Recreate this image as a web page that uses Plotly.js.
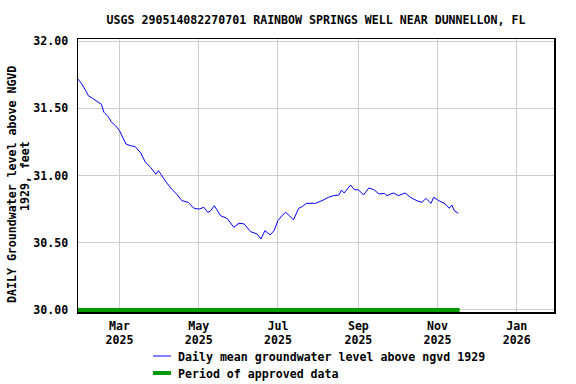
<!DOCTYPE html>
<html>
<head>
<meta charset="utf-8">
<script src="https://cdn.plot.ly/plotly-3.0.1.min.js"></script>
<style>html,body{margin:0;padding:0;background:#fff;}#chart{width:576px;height:384px;}</style>
</head>
<body>
<div id="chart"></div>
<script>
// Daily mean groundwater level
const dates = [
  '2025-01-28','2025-01-31','2025-02-03','2025-02-05','2025-02-08','2025-02-12','2025-02-15','2025-02-17',
  '2025-02-20','2025-02-23','2025-02-26','2025-03-01','2025-03-04','2025-03-06','2025-03-10','2025-03-13',
  '2025-03-17','2025-03-21','2025-03-25','2025-03-29','2025-03-31','2025-04-03','2025-04-06','2025-04-10',
  '2025-04-14','2025-04-18','2025-04-23','2025-04-27','2025-05-01','2025-05-05','2025-05-08','2025-05-10',
  '2025-05-13','2025-05-18','2025-05-23','2025-05-28','2025-06-01','2025-06-05','2025-06-10','2025-06-15',
  '2025-06-18','2025-06-21','2025-06-25','2025-06-28','2025-07-01','2025-07-04','2025-07-07','2025-07-10',
  '2025-07-13','2025-07-17','2025-07-20','2025-07-23','2025-07-30','2025-08-04','2025-08-09','2025-08-13',
  '2025-08-17','2025-08-19','2025-08-21','2025-08-26','2025-08-29','2025-09-01','2025-09-05','2025-09-09',
  '2025-09-13','2025-09-17','2025-09-21','2025-09-23','2025-09-28','2025-10-02','2025-10-07','2025-10-11',
  '2025-10-16','2025-10-20','2025-10-23','2025-10-27','2025-10-29','2025-11-02','2025-11-07','2025-11-10',
  '2025-11-12','2025-11-14','2025-11-17'
];
const levels = [
  31.717,31.68,31.63,31.593,31.575,31.549,31.53,31.47,
  31.44,31.395,31.37,31.333,31.28,31.234,31.22,31.215,
  31.172,31.098,31.06,31.01,31.036,30.99,30.95,30.90,
  30.862,30.813,30.80,30.758,30.75,30.763,30.726,30.735,
  30.775,30.70,30.68,30.615,30.645,30.64,30.582,30.565,
  30.528,30.59,30.558,30.59,30.664,30.70,30.726,30.70,
  30.67,30.756,30.77,30.793,30.793,30.813,30.838,30.85,
  30.855,30.892,30.87,30.929,30.894,30.894,30.855,30.907,
  30.894,30.862,30.867,30.85,30.87,30.85,30.87,30.838,
  30.813,30.80,30.83,30.793,30.838,30.813,30.788,30.756,
  30.78,30.738,30.718
];
// Period of approved data
const approvedDates = ['2025-01-28','2025-11-18'];
const approvedLevels = [30.0, 30.0];
// Axis ticks
const xTickVals = ['2025-03-01','2025-05-01','2025-07-01','2025-09-01','2025-11-01','2026-01-01'];
const xTickMonths = ['Mar','May','Jul','Sep','Nov','Jan'];
const xTickYears = ['2025','2025','2025','2025','2025','2026'];
const yTickVals = [30.0, 30.5, 31.0, 31.5, 32.0];
const yTickText = ['30.00','30.50','31.00','31.50','32.00'];

const F = 'DejaVu Sans Mono, monospace';
const fnt = {family: F, size: 11.6, color: '#000', weight: 'bold'};
const b = t => '<b>' + t + '</b>';
const xRange = ['2025-01-28', '2026-01-29 17:00'];

const traces = [
  {x: approvedDates, y: approvedLevels, type: 'scatter', mode: 'lines',
   line: {color: '#009900', width: 4}, hoverinfo: 'skip', showlegend: false},
  {x: dates, y: levels, type: 'scatter', mode: 'lines',
   line: {color: '#0000ff', width: 1}, showlegend: false},
  // invisible trace to carry the year tick axis
  {x: [xRange[0]], y: [null], xaxis: 'x2', type: 'scatter', mode: 'lines', showlegend: false, hoverinfo: 'skip'}
];

// plot area pixels: x 78..554, y 39..312
const L = 78, R = 554, T = 39, B = 312;
const px = v => (v - L) / (R - L);
const py = v => (B - v) / (B - T);

const layout = {
  width: 576, height: 384,
  margin: {l: L, r: 576 - R, t: T, b: 384 - B, pad: 0},
  paper_bgcolor: '#fff', plot_bgcolor: '#fff',
  font: fnt,
  title: {text: b('USGS 290514082270701 RAINBOW SPRINGS WELL NEAR DUNNELLON, FL'),
          font: fnt, x: 0.5, xref: 'paper', y: 1 - 19.5/384, yanchor: 'middle'},
  xaxis: {type: 'date', range: xRange,
          tickvals: xTickVals, ticktext: xTickMonths.map(b),
          showgrid: true, gridcolor: '#cccccc', gridwidth: 1,
          showline: true, linecolor: '#000', linewidth: 1.5, mirror: true,
          ticks: '', ticklabelstandoff: 3, zeroline: false, tickfont: fnt},
  xaxis2: {type: 'date', range: xRange, overlaying: 'x', anchor: 'y', side: 'bottom',
          tickvals: xTickVals, ticktext: xTickYears.map(b),
          showgrid: false, showline: false, ticks: '', ticklabelstandoff: 19,
          zeroline: false, tickfont: fnt},
  yaxis: {range: [29.985, 32.015],
          tickvals: yTickVals, ticktext: yTickText.map(b),
          showgrid: true, gridcolor: '#cccccc', gridwidth: 1,
          showline: true, linecolor: '#000', linewidth: 1.5, mirror: true,
          ticks: '', ticklabelstandoff: 6, zeroline: false, tickfont: fnt},
  annotations: [
    {text: b('DAILY Groundwater level above NGVD'), xref: 'paper', yref: 'paper',
     x: px(12), y: py(185), textangle: -90, showarrow: false, font: fnt,
     xanchor: 'center', yanchor: 'middle'},
    {text: b('1929, feet'), xref: 'paper', yref: 'paper',
     x: px(25), y: py(176), textangle: -90, showarrow: false, font: fnt,
     xanchor: 'center', yanchor: 'middle'},
    {text: b('Daily mean groundwater level above ngvd 1929'), xref: 'paper', yref: 'paper',
     x: px(176), y: py(356.5), showarrow: false, font: fnt, xanchor: 'left', yanchor: 'middle'},
    {text: b('Period of approved data'), xref: 'paper', yref: 'paper',
     x: px(176), y: py(373.5), showarrow: false, font: fnt, xanchor: 'left', yanchor: 'middle'}
  ],
  shapes: [
    {type: 'line', xref: 'paper', yref: 'paper', x0: px(153), x1: px(171), y0: py(356), y1: py(356),
     line: {color: '#0000ff', width: 1}},
    {type: 'line', xref: 'paper', yref: 'paper', x0: px(153), x1: px(171), y0: py(373), y1: py(373),
     line: {color: '#009900', width: 4}}
  ]
};

Plotly.newPlot('chart', traces, layout, {staticPlot: true, displayModeBar: false});
</script>
</body>
</html>
